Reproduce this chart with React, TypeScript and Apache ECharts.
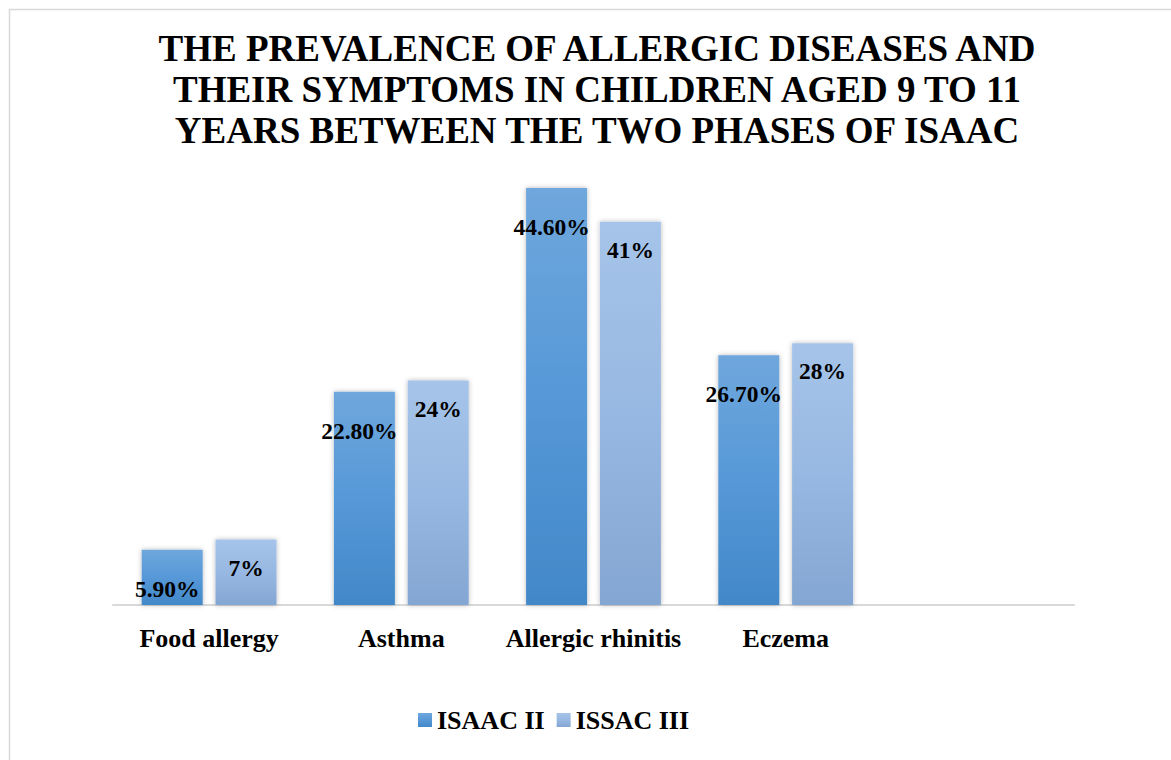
import React, { useEffect, useRef } from "react";
import * as echarts from "echarts";

const titleLines = [
  "THE PREVALENCE OF ALLERGIC DISEASES AND",
  "THEIR SYMPTOMS IN CHILDREN AGED 9 TO 11",
  "YEARS BETWEEN THE TWO PHASES OF ISAAC",
];
const categories = ["Food allergy", "Asthma", "Allergic rhinitis", "Eczema", ""];
const seriesNames = ["ISAAC II", "ISSAC III"];
const isaacII = [5.9, 22.8, 44.6, 26.7];
const issacIII = [7, 24, 41, 28];

const FONT = "Liberation Serif";

export default function App() {
  const ref = useRef<HTMLDivElement>(null);
  useEffect(() => {
    if (!ref.current) return;
    const chart = echarts.init(ref.current, undefined, { renderer: "svg" });
    const gradII = new echarts.graphic.LinearGradient(0, 0, 0, 1, [
      { offset: 0, color: "#6fa7dc" },
      { offset: 0.5, color: "#5698d8" },
      { offset: 1, color: "#4288c8" },
    ]);
    const gradIII = new echarts.graphic.LinearGradient(0, 0, 0, 1, [
      { offset: 0, color: "#a6c4e9" },
      { offset: 0.5, color: "#97b8e2" },
      { offset: 1, color: "#84a6d2" },
    ]);
    const shadow = {
      shadowColor: "rgba(0,0,0,0.28)",
      shadowBlur: 5,
      shadowOffsetX: 0,
      shadowOffsetY: 0,
    };
    chart.setOption({
      animation: false,
      backgroundColor: "#ffffff",
      title: {
        text: titleLines.join("\n"),
        left: 597,
        top: 28,
        padding: 0,
        textAlign: "center",
        textStyle: {
          fontFamily: FONT,
          fontWeight: "bold",
          fontSize: 37,
          lineHeight: 41,
          color: "#000000",
        },
      },
      graphic: [
        {
          type: "rect",
          shape: { x: 9.5, y: 9.5, width: 1200, height: 800 },
          style: { fill: "none", stroke: "#d9d9d9", lineWidth: 1.5 },
          silent: true,
        },
      ],
      legend: {
        data: seriesNames,
        left: 413,
        top: 702,
        itemWidth: 14,
        itemHeight: 14,
        itemGap: 12,
        icon: "rect",
        textStyle: {
          fontFamily: FONT,
          fontWeight: "bold",
          fontSize: 26,
          color: "#000",
        },
      },
      grid: { left: 113, right: 97, top: 137.5, bottom: 155, containLabel: false },
      xAxis: {
        type: "category",
        data: categories,
        axisLine: { show: true, lineStyle: { color: "#d9d9d9", width: 2 } },
        axisTick: { show: false },
        axisLabel: {
          interval: 0,
          margin: 20,
          fontFamily: FONT,
          fontWeight: "bold",
          fontSize: 26,
          color: "#000",
        },
      },
      yAxis: {
        type: "value",
        min: 0,
        max: 50,
        show: false,
        splitLine: { show: false },
      },
      series: [
        {
          name: seriesNames[0],
          type: "bar",
          data: isaacII,
          barWidth: 61,
          barGap: "21%",
          itemStyle: { color: gradII, ...shadow },
          label: {
            show: true,
            position: "insideTop",
            distance: 27,
            offset: [-5, 0],
            formatter: (p: any) => p.value.toFixed(2) + "%",
            fontFamily: FONT,
            fontWeight: "bold",
            fontSize: 23.5,
            color: "#000",
          },
        },
        {
          name: seriesNames[1],
          type: "bar",
          data: issacIII,
          barWidth: 61,
          itemStyle: { color: gradIII, ...shadow },
          label: {
            show: true,
            position: "insideTop",
            distance: 16,
            formatter: (p: any) => p.value + "%",
            fontFamily: FONT,
            fontWeight: "bold",
            fontSize: 23.5,
            color: "#000",
          },
        },
      ],
    });
    return () => chart.dispose();
  }, []);
  return (
    <div
      ref={ref}
      style={{ position: "absolute", left: 0, top: 0, width: 1171, height: 760 }}
    />
  );
}
